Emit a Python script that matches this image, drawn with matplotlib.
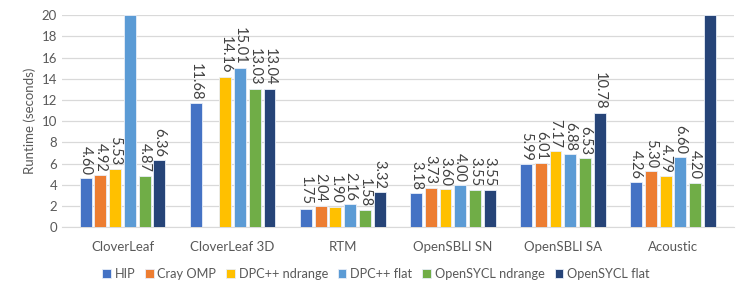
import numpy as np
import matplotlib.pyplot as plt

plt.rcParams['font.family'] = ['Lato', 'DejaVu Sans']

categories = ["CloverLeaf", "CloverLeaf 3D", "RTM", "OpenSBLI SN", "OpenSBLI SA", "Acoustic"]
series = ["HIP", "Cray OMP", "DPC++ ndrange", "DPC++ flat", "OpenSYCL ndrange", "OpenSYCL flat"]
colors = ["#4472C4", "#ED7D31", "#FFC000", "#5B9BD5", "#70AD47", "#264478"]

# values above the axis limit are clipped at 20 (no label shown in original)
hip = [4.60, 11.68, 1.75, 3.18, 5.99, 4.26]
cray_omp = [4.92, np.nan, 2.04, 3.73, 6.01, 5.30]
dpc_ndrange = [5.53, 14.16, 1.90, 3.60, 7.17, 4.79]
dpc_flat = [20.0, 15.01, 2.16, 4.00, 6.88, 6.60]
osycl_ndrange = [4.87, 13.03, 1.58, 3.55, 6.53, 4.20]
osycl_flat = [6.36, 13.04, 3.32, 3.55, 10.78, 20.0]
data = [hip, cray_omp, dpc_ndrange, dpc_flat, osycl_ndrange, osycl_flat]

fig, ax = plt.subplots(figsize=(7.47, 2.92), dpi=100)
fig.subplots_adjust(left=0.083, right=0.982, top=0.948, bottom=0.222)

x = np.arange(len(categories))
slot = 0.134
width = 0.108
for i, (name, vals, c) in enumerate(zip(series, data, colors)):
    pos = x + (i - 2.5) * slot
    ax.bar(pos, vals, width, color=c, label=name, edgecolor="#E8EEF8", linewidth=0.6, zorder=3)
    for px, v in zip(pos, vals):
        if np.isnan(v) or v >= 20:
            continue
        ax.text(px, v + 0.3, f"{v:.2f}", rotation=270, ha="center", va="bottom",
                fontsize=10.5, color="#404040")

ax.set_ylim(0, 20)
ax.set_xlim(-0.55, len(categories) - 0.45)
ax.set_yticks(range(0, 21, 2))
ax.set_xticks(x)
ax.set_xticklabels(categories)
ax.tick_params(axis="both", length=0, labelsize=9.5, colors="#595959")
ax.tick_params(axis="x", pad=10)
ax.grid(axis="y", color="#D9D9D9", linewidth=0.9, zorder=0)
for s in ["top", "right", "left"]:
    ax.spines[s].set_visible(False)
ax.spines["bottom"].set_color("#D9D9D9")
ax.set_ylabel("Runtime (seconds)", fontsize=9.5, color="#595959")

fig.legend(*ax.get_legend_handles_labels(), loc="center", bbox_to_anchor=(0.503, 0.062),
           ncol=6, frameon=False, fontsize=9.2, handlelength=0.65, handleheight=0.65,
           handletextpad=0.3, columnspacing=0.8, labelcolor="#595959")

plt.savefig("out.png", dpi=100)
